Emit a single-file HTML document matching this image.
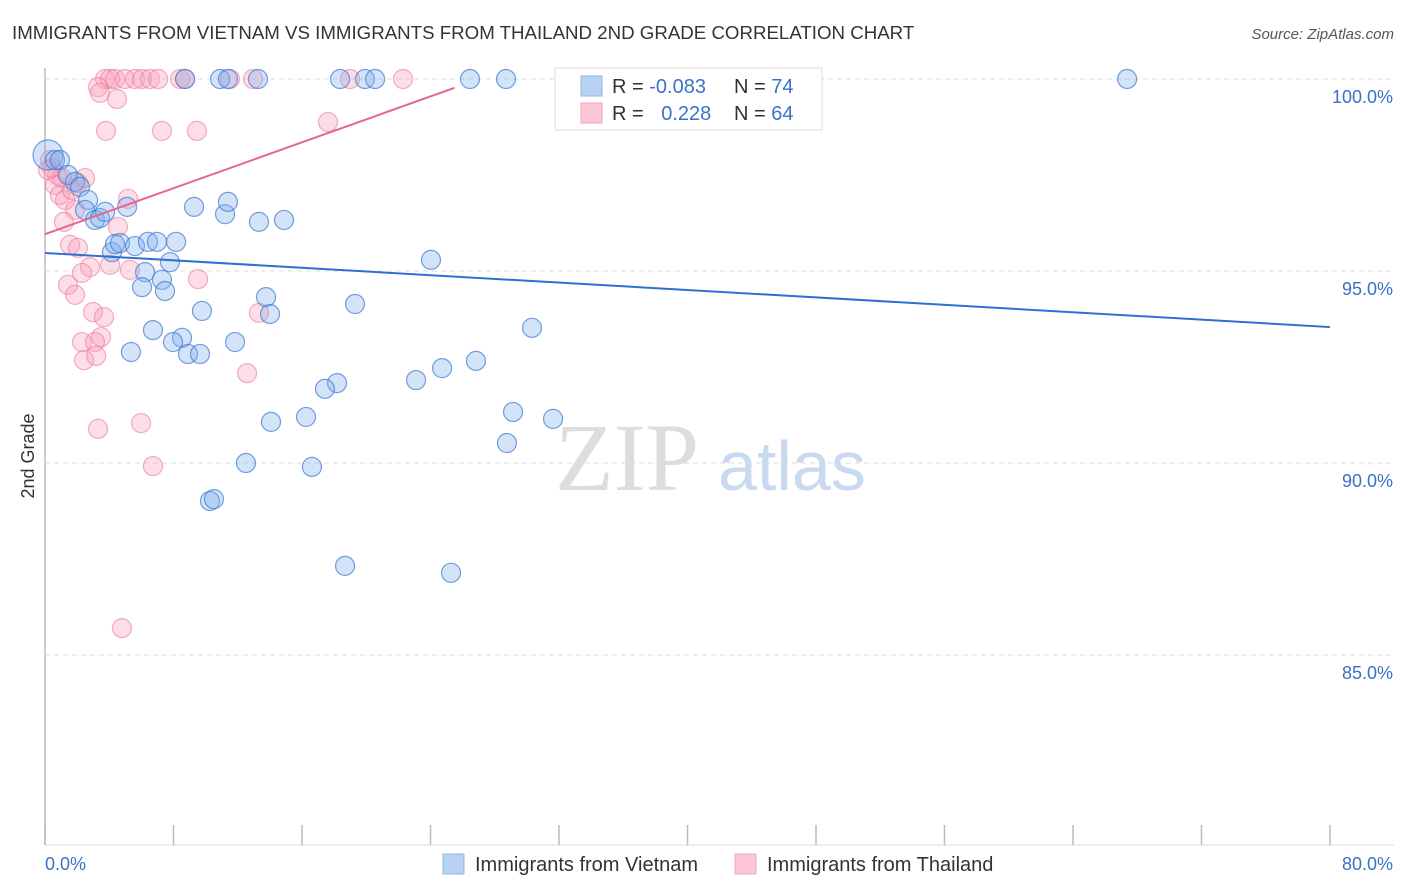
<!DOCTYPE html>
<html><head><meta charset="utf-8"><style>
body{margin:0;background:#fff;font-family:"Liberation Sans",sans-serif;}
#wrap{position:relative;width:1406px;height:892px;overflow:hidden;}
</style></head><body>
<div id="wrap">
<svg id="svg" width="1406" height="892" xmlns="http://www.w3.org/2000/svg">
<text x="12" y="39" font-size="18.7" fill="#333">IMMIGRANTS FROM VIETNAM VS IMMIGRANTS FROM THAILAND 2ND GRADE CORRELATION CHART</text>
<text x="1394" y="39" font-size="15" fill="#555" text-anchor="end" font-style="italic">Source: ZipAtlas.com</text>
<text x="34" y="456" font-size="18" fill="#333" text-anchor="middle" transform="rotate(-90 34 456)">2nd Grade</text>
<g id="grid"></g>
<g>
<text x="555" y="490" font-size="96" fill="#ddd" font-family="Liberation Serif,serif">ZIP</text>
<text x="718" y="490" font-size="70" fill="#c9daf0">atlas</text>
</g>
<g id="pts"></g>
<g id="lines"></g>
<g>
<rect x="555" y="68" width="267" height="62" fill="#fff" stroke="#ddd"/>
<rect x="581" y="76" width="21" height="20" fill="#b8d2f4" stroke="#8fb4e8"/>
<rect x="581" y="103" width="21" height="20" fill="#fcc6d6" stroke="#f4a6bd"/>
<text x="612" y="93" font-size="20" fill="#333">R = <tspan fill="#3a72c8">-0.083</tspan></text>
<text x="734" y="93" font-size="20" fill="#333">N = <tspan fill="#3a72c8">74</tspan></text>
<text x="612" y="120" font-size="20" fill="#333">R = <tspan fill="#3a72c8" dx="12">0.228</tspan></text>
<text x="734" y="120" font-size="20" fill="#333">N = <tspan fill="#3a72c8">64</tspan></text>
</g>
<g>
<rect x="443" y="854" width="21" height="20" fill="#b8d2f4" stroke="#8fb4e8"/>
<text x="475" y="871" font-size="20" fill="#333">Immigrants from Vietnam</text>
<rect x="735" y="854" width="21" height="20" fill="#fcc6d6" stroke="#f4a6bd"/>
<text x="767" y="871" font-size="20" fill="#333">Immigrants from Thailand</text>
</g>
</svg>
</div>
<script>
const yTicks=[100,95,90,85];
const yTickLabels=["100.0%","95.0%","90.0%","85.0%"];
const xTicks=[0,8,16,24,32,40,48,56,64,72,80];
const xTickLabels=["0.0%","80.0%"];
const vnX=[0.19,0.62,0.93,1.43,1.87,2.18,2.68,2.49,3.11,3.42,3.74,5.11,4.17,4.36,4.67,5.6,6.41,6.97,8.16,6.23,7.78,7.28,6.04,7.47,9.28,11.21,11.39,13.32,14.88,24.03,13.76,14.01,9.77,6.72,8.53,7.97,8.9,9.65,5.35,11.83,19.3,30.32,26.83,24.72,23.1,18.18,17.43,16.25,14.07,29.14,31.63,28.76,12.51,16.62,10.27,10.52,18.68,25.28,8.72,10.9,11.39,13.26,18.37,19.92,20.55,26.46,28.7,67.37,43.27];
const vnY=[98.02,97.89,97.89,97.5,97.32,97.19,96.85,96.59,96.33,96.38,96.54,96.67,95.49,95.7,95.73,95.65,95.76,95.76,95.76,94.97,95.23,94.77,94.58,94.48,96.67,96.48,96.8,96.28,96.33,95.29,94.32,93.88,93.96,93.46,93.26,93.15,92.84,92.84,92.89,93.15,94.14,93.52,92.66,92.47,92.16,92.08,91.93,91.2,91.07,91.33,91.15,90.52,90.0,89.9,89.01,89.06,87.32,87.14,100,100,100,100,100,100,100,100,100,100,100];
const thX=[3.74,4.05,4.36,4.98,5.6,6.04,6.54,7.04,8.41,8.72,11.52,12.95,18.99,22.29,3.3,3.42,4.48,3.8,7.28,9.46,17.62,0.31,0.44,0.75,1.06,0.62,0.93,1.25,1.68,2.05,2.49,1.87,1.18,5.17,4.54,1.56,2.05,2.8,2.3,4.05,5.29,9.53,1.43,1.87,2.99,3.67,13.32,3.49,2.3,3.11,2.43,3.18,12.58,3.3,5.98,6.72,4.79,0.19];
const thY=[100,100,100,100,100,100,100,100,100,100,100,100,100,100,99.79,99.64,99.48,98.65,98.65,98.65,98.88,97.89,97.68,97.5,97.42,97.24,96.98,96.85,97.11,97.29,97.42,96.59,96.28,96.88,96.15,95.68,95.6,95.1,94.95,95.16,95.03,94.79,94.64,94.38,93.93,93.8,93.91,93.28,93.15,93.15,92.68,92.79,92.34,90.89,91.04,89.92,85.7,97.63];
const vnTrend=[[0,95.47],[80,93.54]];
const thTrend=[[0,95.96],[25.5,99.77]];
const X0=45,X1=1330,Ytop=79,PPU=38.4;
const sx=v=>X0+(X1-X0)*v/80;
const sy=v=>Ytop+(100-v)*PPU;
const NS="http://www.w3.org/2000/svg";
function mk(tag,attrs,parent){const e=document.createElementNS(NS,tag);for(const k in attrs)e.setAttribute(k,attrs[k]);parent.appendChild(e);return e;}
const grid=document.getElementById('grid');
let ax=mk('line',{x1:X0,y1:68,x2:X0,y2:845,stroke:'#bbb','stroke-width':1.5},grid);


let bx=mk('line',{x1:X0,y1:845,x2:1394,y2:845,stroke:'#ddd','stroke-width':1},grid);


yTicks.forEach((t,i)=>{
 const l=mk('line',{x1:X0,y1:sy(t),x2:1394,y2:sy(t),stroke:'#ddd','stroke-dasharray':'5,4'},grid);
 
 
 const tx=mk('text',{x:1393,y:sy(t)+24,'font-size':18,fill:'#3a72c8','text-anchor':'end'},grid);
 tx.textContent=yTickLabels[i];
 
 
});
xTicks.forEach(t=>{
 const l=mk('line',{x1:sx(t),y1:825,x2:sx(t),y2:845,stroke:'#bbb','stroke-width':1.5},grid);
 
 
});
let xl0=mk('text',{x:45,y:870,'font-size':18,fill:'#3a72c8'},grid);xl0.textContent=xTickLabels[0];


let xl1=mk('text',{x:1393,y:870,'font-size':18,fill:'#3a72c8','text-anchor':'end'},grid);xl1.textContent=xTickLabels[1];


const pts=document.getElementById('pts');
thX.forEach((x,i)=>{
 const c=mk('circle',{cx:sx(x),cy:sy(thY[i]),r:9.5,fill:'rgba(248,160,185,0.35)',stroke:'rgba(236,120,155,0.6)','stroke-width':1.2},pts);
 
 
});
vnX.forEach((x,i)=>{
 const c=mk('circle',{cx:sx(x),cy:sy(vnY[i]),r:i===0?15:9.5,fill:'rgba(130,175,235,0.35)',stroke:'rgba(60,120,210,0.7)','stroke-width':1.2},pts);
 
 
});
const lines=document.getElementById('lines');
let lb=mk('line',{x1:sx(vnTrend[0][0]),y1:sy(vnTrend[0][1]),x2:sx(vnTrend[1][0]),y2:sy(vnTrend[1][1]),stroke:'#2f6fd0','stroke-width':2},lines);


let lp=mk('line',{x1:sx(thTrend[0][0]),y1:sy(thTrend[0][1]),x2:sx(thTrend[1][0]),y2:sy(thTrend[1][1]),stroke:'#e8648f','stroke-width':2},lines);


</script>
</body></html>
